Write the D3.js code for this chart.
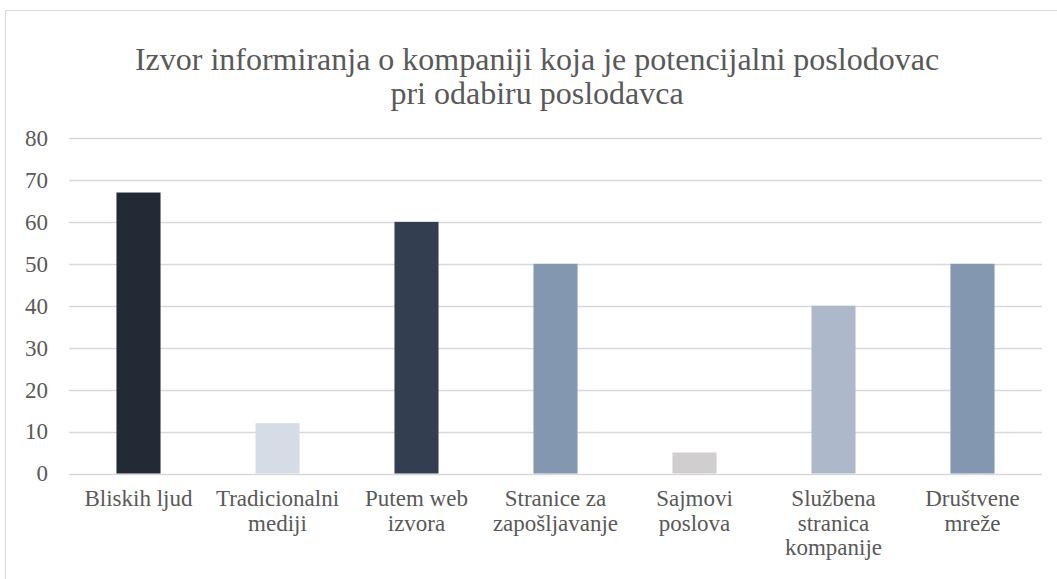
<!DOCTYPE html>
<html>
<head>
<meta charset="utf-8">
<script src="https://cdn.jsdelivr.net/npm/d3@7"></script>
<style>
  body { margin: 0; background: #fff; }
  svg { display: block; }
  svg text { font-family: 'Liberation Serif', Tinos, 'Times New Roman', 'DejaVu Serif', serif; fill: #595959; }
</style>
</head>
<body>
<svg id="chart" width="1057" height="579"></svg>
<script>
// data
var categories = ['Bliskih ljud', 'Tradicionalni mediji', 'Putem web izvora', 'Stranice za zapošljavanje',
                  'Sajmovi poslova', 'Službena stranica kompanije', 'Društvene mreže']
var labelLines = [['Bliskih ljud'], ['Tradicionalni', 'mediji'], ['Putem web', 'izvora'], ['Stranice za', 'zapošljavanje'],
                  ['Sajmovi', 'poslova'], ['Službena', 'stranica', 'kompanije'], ['Društvene', 'mreže']]
var values = [67, 12, 60, 50, 5, 40, 50]
var barColors = ['#222a35', '#d6dce5', '#333f50', '#8497b0', '#d0cece', '#adb9ca', '#8497b0']
var yTicks = [0, 10, 20, 30, 40, 50, 60, 70, 80]
var titleLines = ['Izvor informiranja o kompaniji koja je potencijalni poslodovac', 'pri odabiru poslodavca']

var serif = "'Liberation Serif', Tinos, 'Times New Roman', 'DejaVu Serif', serif"
var svg = d3.select('#chart')

// chart area border (runs off the right and bottom)
svg.append('rect')
    .attr('x', 5.5).attr('y', 10.5)
    .attr('width', 1100).attr('height', 600)
    .style('fill', 'none').style('stroke', '#d9d9d9').style('stroke-width', 1)

var xs = d3.scaleBand().domain(categories).range([69, 1042]).paddingInner(0.683).paddingOuter(0.3415)
var ys = d3.scaleLinear().domain([0, 80]).range([473.5, 138])

// title
svg.append('text')
    .attr('text-anchor', 'middle')
    .style('font-family', serif)
    .style('font-size', '32px')
    .selectAll('tspan')
    .data(titleLines)
    .enter()
    .append('tspan')
    .attr('x', 537)
    .attr('y', (d, i) => 70 + i * 34)
    .text(d => d)

// gridlines
svg.append('g').selectAll('line')
    .data(yTicks)
    .enter()
    .append('line')
    .attr('x1', 69).attr('x2', 1042)
    .attr('y1', d => Math.round(ys(d)) + 0.5).attr('y2', d => Math.round(ys(d)) + 0.5)
    .style('stroke', '#d9d9d9').style('stroke-width', 1.5)

// y axis labels
var yAxis = d3.axisLeft(ys).tickValues(yTicks).tickSize(0).tickPadding(0)
var gy = svg.append('g').attr('transform', 'translate(48,0)').call(yAxis)
gy.attr('font-family', null)
gy.select('.domain').remove()
gy.selectAll('text')
    .style('font-family', serif)
    .style('font-size', '23px').style('fill', '#595959')

// bars
svg.append('g').selectAll('rect')
    .data(values)
    .enter()
    .append('rect')
    .attr('x', (d, i) => xs(categories[i]))
    .attr('width', xs.bandwidth())
    .attr('y', d => ys(d))
    .attr('height', d => ys(0) - ys(d))
    .style('fill', (d, i) => barColors[i])

// category labels
var cats = svg.append('g').selectAll('text')
    .data(labelLines)
    .enter()
    .append('text')
    .attr('text-anchor', 'middle')
    .style('font-family', serif)
    .style('font-size', '23px')

cats.selectAll('tspan')
    .data((d, i) => d.map(t => ({t: t, c: categories[i]})))
    .enter()
    .append('tspan')
    .attr('x', d => xs(d.c) + xs.bandwidth() / 2)
    .attr('y', (d, j) => 506 + j * 24.5)
    .text(d => d.t)
</script>
</body>
</html>
